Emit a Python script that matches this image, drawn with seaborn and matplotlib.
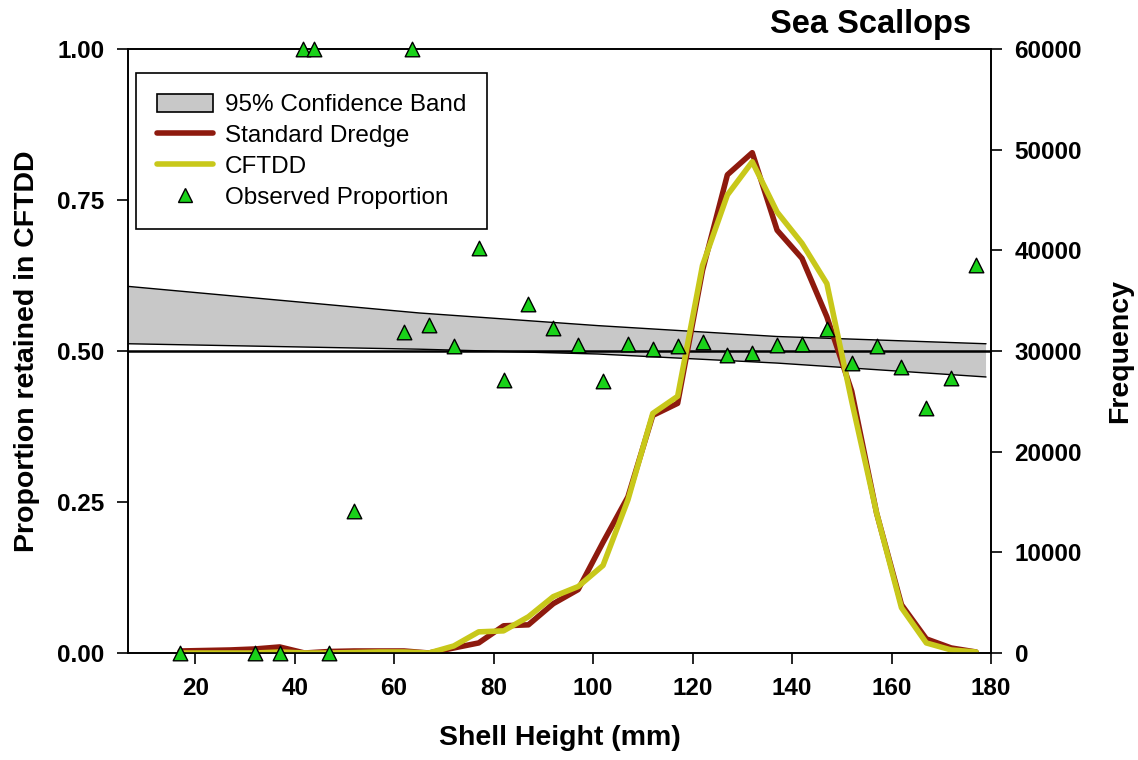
import numpy as np
import pandas as pd
import matplotlib
matplotlib.use("Agg")
import matplotlib.pyplot as plt
from matplotlib.patches import Patch
from matplotlib.lines import Line2D
import seaborn as sns

# ---------------- data ----------------
length_mm = [17, 22, 27, 32, 37, 42, 47, 52, 57, 62, 67, 72, 77, 82, 87, 92, 97,
             102, 107, 112, 117, 122, 127, 132, 137, 142, 147, 152, 157, 162, 167, 172, 177]
freq_standard = [200, 250, 300, 400, 600, 0, 150, 200, 200, 200, 0, 500, 1000, 2700, 2800,
                 4900, 6300, 11000, 15500, 23600, 24800, 38000, 47500, 49700, 42000, 39200,
                 33400, 26000, 13900, 4800, 1400, 500, 100]
freq_cftdd = [0, 0, 0, 0, 100, 0, 0, 50, 100, 100, 0, 700, 2100, 2200, 3600, 5600, 6600,
              8700, 15200, 23800, 25500, 38500, 45500, 48800, 43800, 40700, 36700, 25000,
              13900, 4500, 1000, 300, 100]

obs_x = [17, 32, 37, 41.6, 43.8, 47, 52, 62, 63.6, 67, 72, 77, 82, 87, 92, 97, 102, 107,
         112, 117, 122, 127, 132, 137, 142, 147, 152, 157, 162, 167, 172, 177]
obs_prop = [0.0, 0.0, 0.0, 1.0, 1.0, 0.0, 0.235, 0.531, 1.0, 0.543, 0.508, 0.670, 0.452,
            0.578, 0.538, 0.510, 0.450, 0.511, 0.503, 0.508, 0.515, 0.493, 0.497, 0.510,
            0.512, 0.537, 0.480, 0.508, 0.473, 0.405, 0.455, 0.642]

band_x = [6.5, 65, 101, 137, 179]
band_upper = [0.607, 0.563, 0.542, 0.524, 0.512]
band_lower = [0.512, 0.503, 0.495, 0.480, 0.457]
reference_prop = 0.5

x_ticks = [20, 40, 60, 80, 100, 120, 140, 160, 180]
left_ticks = [0.0, 0.25, 0.5, 0.75, 1.0]
right_ticks = [0, 10000, 20000, 30000, 40000, 50000, 60000]

# ---------------- style ----------------
sns.set_theme(style="white")
plt.rcParams['font.family'] = ['Liberation Sans', 'DejaVu Sans']

RED = '#8E1A0E'
YEL = '#C8C81A'
GREEN = '#19D219'
GREY = '#C8C8C8'

fig = plt.figure(figsize=(11.38, 7.6), dpi=100)
ax1 = fig.add_axes([128/1138, 107/760, (991-128)/1138, (653-49)/760])
ax2 = ax1.twinx()

# band and reference line (proportion axis)
ax1.fill_between(band_x, band_lower, band_upper, facecolor=GREY, edgecolor='none', zorder=1)
ax1.plot(band_x, band_upper, color='black', lw=1.0, zorder=2)
ax1.plot(band_x, band_lower, color='black', lw=1.0, zorder=2)
ax1.axhline(reference_prop, color='black', lw=1.8, zorder=2)

# frequency lines
df = pd.DataFrame({
    'x': length_mm * 2,
    'freq': freq_standard + freq_cftdd,
    'gear': ['Standard Dredge'] * len(length_mm) + ['CFTDD'] * len(length_mm),
})
sns.lineplot(data=df, x='x', y='freq', hue='gear',
             palette={'Standard Dredge': RED, 'CFTDD': YEL},
             linewidth=4.0, ax=ax2, legend=False, sort=False)

# observed proportions (drawn on top, in proportion coordinates)
obs_df = pd.DataFrame({'x': obs_x, 'p': obs_prop})
sns.scatterplot(data=obs_df, x='x', y='p', marker='^', s=110, color=GREEN,
                edgecolor='black', linewidth=1.0, ax=ax2, legend=False,
                transform=ax1.transData, zorder=5, clip_on=False)

# axes limits / ticks
ax1.set_xlim(6.5, 179)
ax2.set_xlim(6.5, 179)
ax1.set_ylim(0, 1.0)
ax2.set_ylim(0, 60000)
ax1.set_xticks(x_ticks)
ax1.set_yticks(left_ticks)
ax1.set_yticklabels([f'{v:.2f}' for v in left_ticks])
ax2.set_yticks(right_ticks)
ax2.set_yticklabels([str(v) for v in right_ticks])

for lab in ax1.get_xticklabels() + ax1.get_yticklabels() + ax2.get_yticklabels():
    lab.set_fontsize(17.5)
    lab.set_fontweight('bold')
    lab.set_color('black')

ax1.tick_params(axis='both', direction='out', length=8, width=1.2, color='black', pad=9,
                left=True, bottom=True)
ax2.tick_params(axis='y', direction='out', length=8, width=1.2, color='black', pad=9,
                right=True)

for ax in (ax1, ax2):
    for sp in ax.spines.values():
        sp.set_color('black')
        sp.set_linewidth(1.2)
        sp.set_visible(True)

ax1.set_xlabel('Shell Height (mm)', fontsize=20.5, fontweight='bold', labelpad=18, color='black')
ax1.set_ylabel('Proportion retained in CFTDD', fontsize=20.5, fontweight='bold', labelpad=12, color='black')
ax2.set_ylabel('Frequency', fontsize=20.5, fontweight='bold', labelpad=18, color='black')
ax2.set_xlabel('')
ax2.grid(False)
ax1.grid(False)

fig.text(871/1138, 1 - 25/760, 'Sea Scallops', fontsize=23.5, fontweight='bold',
         ha='center', va='center', color='black')

handles = [
    Patch(facecolor=GREY, edgecolor='black', linewidth=1.2),
    Line2D([0], [0], color=RED, lw=4.0),
    Line2D([0], [0], color=YEL, lw=4.0),
    Line2D([0], [0], linestyle='none', marker='^', markersize=10,
           markerfacecolor=GREEN, markeredgecolor='black', markeredgewidth=1.0),
]
labels = ['95% Confidence Band', 'Standard Dredge', 'CFTDD', 'Observed Proportion']
leg = ax2.legend(handles, labels, loc='upper left',
                 bbox_to_anchor=((136-128)/863, (653-73)/604),
                 fontsize=17.5, frameon=True, fancybox=False, framealpha=1,
                 edgecolor='black', handlelength=2.3, handleheight=0.8,
                 labelspacing=0.33, borderpad=0.85, handletextpad=0.5, borderaxespad=0,
                 labelcolor='black')
leg.get_frame().set_linewidth(1.2)

fig.savefig('out.png', dpi=100, facecolor='white')
